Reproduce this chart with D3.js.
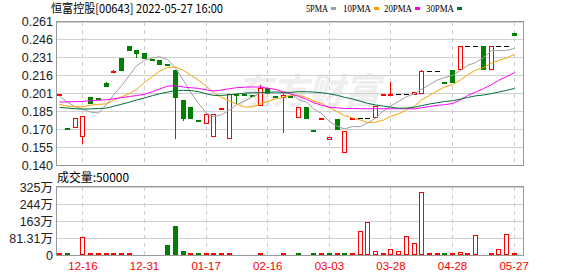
<!DOCTYPE html>
<html>
<head>
<meta charset="utf-8">
<script src="https://cdn.jsdelivr.net/npm/d3@7"></script>
<style>
  body { margin: 0; background: #fff; }
  svg { display: block; }
</style>
</head>
<body>
<svg id="chart" width="578" height="276"></svg>
<script>
// daily candles, one slot per trading day (60 slots, last = 05-27)
const opens  = [.200,.171,.1718,.1647,.1973,.1962,.2091,.2187,.2300,.2405,.2369,.2344,.2291,.2283,.2251,.2201,.1948,.1892,.1778,.1752,
                .1642,.1878,.1625,.2001,.1995,.1993,.1905,.2047,.1982,.1976,.1985,.1802,.1889,.1695,.1796,.1622,.1788,.1507,.1796,.1796,
                .1796,.1802,.1996,.1996,.1996,.1996,.1996,.2004,.2192,.2192,.2100,.2201,.2207,.2404,.2404,.2404,.2207,.2404,.2404,.2516];
const highs  = [.200,.171,.1794,.1810,.1973,.1962,.2096,.2203,.2300,.2405,.2369,.2344,.2291,.2283,.2251,.2201,.1948,.1892,.1778,.1830,
                .1830,.1878,.1998,.2001,.1995,.1993,.2075,.2047,.1982,.2005,.1985,.1889,.1889,.1695,.1796,.1639,.1788,.1687,.1796,.1796,
                .1796,.1897,.1996,.2102,.1996,.1996,.2015,.2203,.2192,.2192,.2100,.2201,.2404,.2404,.2404,.2404,.2404,.2404,.2404,.2516];
const lows   = [.200,.171,.1718,.1577,.1925,.1955,.2070,.2187,.2201,.2370,.2305,.2305,.2291,.2254,.2251,.1622,.1773,.1799,.1778,.1752,
                .1642,.1878,.1625,.1912,.1995,.1993,.1905,.2005,.1982,.1667,.1985,.1802,.1799,.1695,.1796,.1622,.1701,.1507,.1796,.1796,
                .1796,.1802,.1996,.1996,.1996,.1996,.1996,.2004,.2192,.2192,.2100,.2103,.2207,.2404,.2404,.2207,.2207,.2404,.2404,.2497];
const closes = [.200,.171,.1794,.1810,.1925,.1955,.2070,.2190,.2201,.2370,.2347,.2305,.2291,.2254,.2251,.1976,.1799,.1799,.1778,.1830,
                .1830,.1878,.1998,.1999,.1995,.1993,.2050,.2005,.1982,.1990,.1985,.1889,.1799,.1695,.1796,.1639,.1701,.1687,.1796,.1796,
                .1796,.1897,.1996,.1996,.1996,.1996,.2015,.2192,.2192,.2192,.2100,.2103,.2404,.2404,.2404,.2207,.2404,.2404,.2404,.2497];
const volumes = [40000,40000,0,850000,40000,40000,40000,40000,40000,40000,0,0,0,0,470000,1410000,190000,40000,40000,40000,
                 40000,40000,40000,0,0,0,40000,0,0,40000,0,40000,0,40000,40000,40000,40000,40000,40000,1130000,
                 1600000,170000,60000,270000,190000,930000,560000,3010000,60000,40000,60000,60000,130000,40000,940000,0,50000,280000,990000,50000];

// moving averages as drawn
const ma5  = [.198,.193,.189,.187,.1847,.1838,.1910,.1990,.2068,.2157,.2236,.2283,.2303,.2313,.2290,.2215,.2114,.2016,.1921,.1836,
              .1807,.1823,.1863,.1907,.1940,.1973,.2008,.2009,.2005,.2004,.2003,.1953,.1930,.1873,.1834,.1764,.1726,.1704,.1724,.1724,
              .1755,.1794,.1856,.1896,.1936,.1976,.2000,.2039,.2078,.2117,.2137,.2155,.2197,.2240,.2263,.2304,.2365,.2365,.2365,.2383];
const ma10 = [.1912,.1895,.1890,.1890,.1905,.1912,.1915,.1945,.1975,.2002,.2037,.2096,.2146,.2191,.2223,.2226,.2198,.2159,.2117,.2063,
              .2011,.1969,.1939,.1914,.1888,.1890,.1915,.1936,.1956,.1972,.1988,.1989,.1969,.1939,.1919,.1883,.1848,.1817,.1798,.1779,
              .1759,.1760,.1780,.1810,.1830,.1866,.1897,.1948,.1987,.2026,.2057,.2077,.2118,.2159,.2200,.2221,.2260,.2281,.2302,.2333];
const ma20 = [.1931,.1932,.1934,.1936,.1942,.1946,.1950,.1958,.1968,.1978,.1985,.1996,.2018,.2041,.2064,.2069,.2057,.2052,.2046,.2033,
              .2024,.2032,.2043,.2052,.2056,.2058,.2057,.2048,.2037,.2018,.2000,.1979,.1954,.1926,.1904,.1887,.1882,.1876,.1877,.1875,
              .1874,.1875,.1875,.1874,.1874,.1875,.1873,.1882,.1893,.1903,.1908,.1919,.1949,.1985,.2015,.2043,.2078,.2114,.2145,.2180];
const ma30 = [.1886,.1880,.1874,.1872,.1873,.1876,.1880,.1895,.1912,.1930,.1948,.1965,.1985,.2000,.2015,.2028,.2030,.2028,.2018,.2000,
              .1987,.1987,.1992,.1998,.2006,.2009,.2010,.2013,.2016,.2012,.2012,.2018,.2018,.2015,.2010,.2000,.1987,.1971,.1957,.1938,
              .1920,.1906,.1896,.1888,.1879,.1880,.1887,.1900,.1914,.1926,.1935,.1942,.1956,.1969,.1983,.1990,.2002,.2015,.2029,.2046];

const tickIdx    = [3, 11, 19, 27, 35, 43, 51, 59];
const tickLabels = ['12-16', '12-31', '01-17', '02-16', '03-03', '03-28', '04-28', '05-27'];
const priceLabels = ['0.140', '0.155', '0.170', '0.185', '0.201', '0.216', '0.231', '0.246', '0.261'];
const volLabels   = ['0', '81.31万', '163万', '244万', '325万'];
const maNames  = ['5PMA', '10PMA', '20PMA', '30PMA'];
const maColors = ['#a0a0a0', '#f5a300', '#ff00ff', '#00703a'];

const RED = '#ff0000', GREEN = '#008000';
const left = 56, right = 522.5;
const pTop = 21.5, pBot = 165, vTop = 187, vBot = 255;

const svg = d3.select('#chart');

const x = d3.scaleBand()
  .domain(d3.range(closes.length))
  .range([left, 518])
  .paddingInner(0.35)
  .paddingOuter(0.175);
const bw = Math.round(x.bandwidth());
const bx = i => Math.round(x(i));
const cx = i => bx(i) + Math.floor(bw / 2) + 0.5;

const yP = d3.scaleLinear().domain([0.140, 0.261]).range([pBot, pTop]);
const yV = d3.scaleLinear().domain([0, 3252400]).range([vBot, vTop]);

const pTicks = priceLabels.map((d, i) => 0.140 + i * 0.121 / 8);
const vTicks = volLabels.map((d, i) => i * 3252400 / 4);

// watermark
svg.append('text')
  .attr('x', 236).attr('y', 104)
  .attr('font-family', 'Noto Sans CJK SC')
  .attr('font-size', 36).attr('font-weight', 'bold')
  .attr('font-style', 'italic')
  .attr('textLength', 144)
  .attr('fill', '#eeeeee')
  .text('东方财富');

// grid
const grid = svg.append('g').attr('shape-rendering', 'crispEdges');
grid.selectAll('.hp').data(pTicks).enter().append('line')
  .attr('x1', left).attr('x2', right)
  .attr('y1', d => Math.round(yP(d)) + 0.5).attr('y2', d => Math.round(yP(d)) + 0.5)
  .attr('stroke', '#d0d0d0');
grid.selectAll('.hv').data(vTicks).enter().append('line')
  .attr('x1', left).attr('x2', right)
  .attr('y1', d => Math.round(yV(d)) + 0.5).attr('y2', d => Math.round(yV(d)) + 0.5)
  .attr('stroke', '#d0d0d0');
[[pTop, pBot], [vTop, vBot]].forEach(([a, b]) => {
  grid.selectAll(null).data(tickIdx).enter().append('line')
    .attr('x1', d => cx(d)).attr('x2', d => cx(d))
    .attr('y1', a).attr('y2', b)
    .attr('stroke', '#cccccc')
    .attr('stroke-dasharray', '4,4');
});

// candles
const prev = i => i > 0 ? closes[i - 1] : -1;
function candleColor(i) {
  if (closes[i] > opens[i]) return RED;
  if (closes[i] < opens[i]) return GREEN;
  if (closes[i] > prev(i)) return RED;
  if (closes[i] < prev(i)) return GREEN;
  return highs[i] > lows[i] ? RED : '#000';
}
const cg = svg.append('g').attr('shape-rendering', 'crispEdges');
const idx = d3.range(closes.length);

cg.selectAll('.wick').data(idx.filter(i => highs[i] > lows[i])).enter().append('line')
  .attr('x1', cx).attr('x2', cx)
  .attr('y1', i => Math.round(yP(highs[i])))
  .attr('y2', i => Math.round(yP(lows[i])))
  .attr('stroke', candleColor);

cg.selectAll('.body').data(idx).enter().append('rect')
  .each(function (i) {
    const r = d3.select(this), col = candleColor(i);
    const t = Math.round(yP(Math.max(opens[i], closes[i])));
    const b = Math.round(yP(Math.min(opens[i], closes[i])));
    if (b - t < 2) {
      r.attr('x', bx(i)).attr('width', bw)
        .attr('y', t).attr('height', col === '#000' ? 1 : 2)
        .attr('fill', col);
    } else if (col === RED) {
      r.attr('x', bx(i) + 0.5).attr('width', bw - 1)
        .attr('y', t + 0.5).attr('height', b - t)
        .attr('fill', '#fff').attr('stroke', RED);
    } else {
      r.attr('x', bx(i)).attr('width', bw)
        .attr('y', t).attr('height', b - t + 1)
        .attr('fill', col);
    }
  });

// moving averages
maNames.forEach((n, k) => {
  const vals = [ma5, ma10, ma20, ma30][k];
  svg.append('path')
    .datum(vals)
    .attr('fill', 'none')
    .attr('stroke', maColors[k])
    .attr('stroke-width', 1)
    .attr('d', d3.line().x((d, i) => cx(i)).y(d => yP(d)));
});

// volume
const vg = svg.append('g').attr('shape-rendering', 'crispEdges');
vg.selectAll('.vol').data(idx.filter(i => volumes[i] > 0)).enter().append('rect')
  .each(function (i) {
    const r = d3.select(this);
    const up = closes[i] >= prev(i);
    let t = Math.round(yV(volumes[i]));
    if (vBot - t < 2) t = vBot - 2;
    if (up) {
      r.attr('x', bx(i) + 0.5).attr('width', bw - 1)
        .attr('y', t + 0.5).attr('height', vBot - t - 1)
        .attr('fill', '#fff').attr('stroke', RED);
    } else {
      r.attr('x', bx(i)).attr('width', bw)
        .attr('y', t).attr('height', vBot - t)
        .attr('fill', GREEN);
    }
  });

// frames
svg.append('rect').attr('x', left + 0.5).attr('y', pTop).attr('width', right - left).attr('height', pBot - pTop)
  .attr('fill', 'none').attr('stroke', '#999').attr('shape-rendering', 'crispEdges');
svg.append('rect').attr('x', left + 0.5).attr('y', vTop - 0.5).attr('width', right - left).attr('height', vBot - vTop + 1)
  .attr('fill', 'none').attr('stroke', '#999').attr('shape-rendering', 'crispEdges');

// axes
const axisFont = 'Liberation Sans, Arial, Noto Sans CJK SC, sans-serif';
const pAxis = svg.append('g').attr('transform', `translate(${left - 3},0)`)
  .call(d3.axisLeft(yP).tickValues(pTicks).tickSize(0).tickPadding(0)
    .tickFormat((d, i) => priceLabels[i]));
const vAxis = svg.append('g').attr('transform', `translate(${left - 3},0)`)
  .call(d3.axisLeft(yV).tickValues(vTicks).tickSize(0).tickPadding(0)
    .tickFormat((d, i) => volLabels[i]));
[pAxis, vAxis].forEach(a => {
  a.select('.domain').remove();
  a.selectAll('text').attr('font-family', axisFont).attr('font-size', 12.5).attr('fill', '#222');
});

const xAxis = svg.append('g').attr('transform', `translate(0,${vBot + 2})`)
  .call(d3.axisBottom(x).tickValues(tickIdx).tickSize(0).tickPadding(5)
    .tickFormat((d, i) => tickLabels[i]));
xAxis.select('.domain').remove();
xAxis.selectAll('text').attr('font-family', axisFont).attr('font-size', 11.5).attr('fill', RED);

// title, legend, volume caption
svg.append('text').attr('x', 51).attr('y', 13)
  .attr('font-family', 'Noto Sans CJK SC').attr('font-size', 12)
  .attr('textLength', 172).attr('lengthAdjust', 'spacingAndGlyphs')
  .attr('fill', '#000')
  .text('恒富控股[00643] 2022-05-27 16:00');

const legX = [306, 343, 384, 426], legW = [22, 28, 28, 28];
maNames.forEach((n, k) => {
  svg.append('text').attr('x', legX[k]).attr('y', 12)
    .attr('font-family', 'Liberation Serif, serif').attr('font-size', 11)
    .attr('textLength', legW[k]).attr('lengthAdjust', 'spacingAndGlyphs')
    .attr('fill', '#000').text(n);
  svg.append('rect').attr('x', legX[k] + legW[k] + 3).attr('y', 7)
    .attr('width', 5).attr('height', 3).attr('fill', maColors[k]);
});

svg.append('text').attr('x', 57).attr('y', 182)
  .attr('font-family', 'Noto Sans CJK SC').attr('font-size', 12)
  .attr('textLength', 72).attr('lengthAdjust', 'spacingAndGlyphs')
  .attr('fill', '#000')
  .text('成交量:' + volumes[volumes.length - 1]);
</script>
</body>
</html>
